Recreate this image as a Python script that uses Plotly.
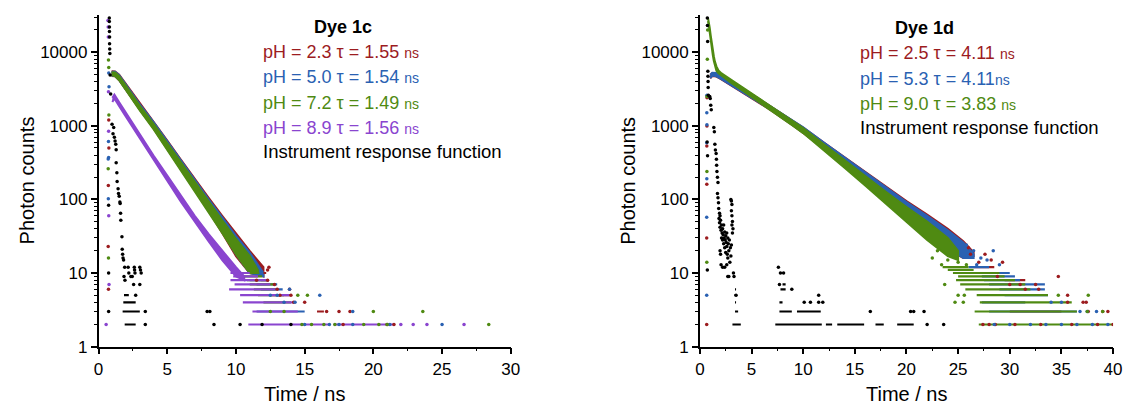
import plotly.graph_objects as go

# ----------------------------------------------------------------- data ----
# Dye 1c : dense decay bands (time in ns, upper / lower photon counts of the dot cloud)
t_1c = [0.95, 1.2, 1.5, 2, 3, 4, 5, 6, 7, 8, 9, 10, 11, 12]
hi_1c_red = [5500, 5450, 4950, 3700, 2000, 1150, 630, 345, 190, 106, 60, 34, 20, 12]
lo_1c_red = [4750, 4700, 4150, 3050, 1650, 920, 490, 255, 133, 70, 35, 17, 10, 9]
hi_1c_blue = [5400, 5400, 4850, 3600, 1950, 1120, 610, 333, 183, 101, 57, 32, 19, 10]
lo_1c_blue = [4800, 4750, 4200, 3100, 1680, 940, 500, 262, 137, 73, 37, 18, 10, 9]
t_1c_green = [0.95, 1.2, 1.5, 2, 3, 4, 5, 6, 7, 8, 9, 10, 11, 11.6]
hi_1c_green = [5350, 5300, 4700, 3450, 1860, 1060, 580, 310, 168, 93, 52, 29, 17, 11]
lo_1c_green = [4850, 4750, 4150, 3050, 1620, 900, 475, 244, 127, 67, 35, 18, 10, 10]
t_1c_purple = [1.0, 1.15, 1.5, 2, 3, 4, 5, 6, 7, 8, 9, 10, 10.6]
hi_1c_purple = [2400, 2650, 2080, 1480, 770, 395, 210, 110, 60, 34, 20, 12, 9]
lo_1c_purple = [2100, 2350, 1850, 1320, 680, 345, 180, 92, 49, 27, 15, 9, 8]

# Dye 1c : rows of equal low counts (count, t_start, t_end)
rows_1c_purple = [(10, 9.6, 11.0), (9, 9.8, 11.6), (8, 9.6, 12.4), (7, 9.9, 12.5), (6, 9.5, 12.9),
                  (5, 10.3, 13.9), (4, 10.5, 14.2), (3, 11.2, 14.5), (2, 10.9, 16.8), (2, 17.1, 21.5)]
rows_1c_green = [(10, 10.5, 11.7), (9, 10.6, 11.9), (8, 10.8, 12.2), (7, 11.0, 12.9), (6, 11.3, 12.9),
                 (5, 11.6, 13.5), (4, 12.0, 14.0)]
rows_1c_blue = [(10, 10.6, 12.0), (8, 11.0, 12.4), (7, 11.5, 13.0), (6, 11.8, 13.4), (3, 11.5, 15.0)]
rows_1c_red = [(10, 11.0, 12.2), (8, 11.8, 12.4), (5, 12.5, 14.0), (3, 15.9, 16.4)]
rows_1c_irf = [(5, 1.85, 2.2), (4, 1.8, 2.7), (3, 1.75, 3.0), (2, 1.9, 2.7)]

# Dye 1c : single dots (rise column and sparse tail)
dots_1c_purple_t = [0.68, 0.70, 0.71, 0.72, 0.73, 0.74, 0.76, 0.55, 22.0, 22.9, 23.9, 26.6]
dots_1c_purple_c = [27000, 22000, 16000, 2900, 840, 60, 7, 2, 2, 2, 2, 2]
dots_1c_green_t = [0.72, 0.74, 0.75, 0.70, 0.72, 14.5, 15.2, 12.5, 13.5, 20.0, 23.6, 28.4,
                   14.8, 15.5, 16.4, 17.2, 19.3, 20.4, 21.0]
dots_1c_green_c = [7800, 6200, 1400, 260, 16, 5, 5, 3, 3, 3, 3, 2, 2, 2, 2, 2, 2, 2, 2]
dots_1c_blue_t = [0.74, 0.76, 0.72, 0.73, 0.70, 0.71, 13.9, 12.5, 13.0, 16.1, 13.5, 14.3, 18.5,
                  15.0, 16.8, 17.5, 18.5, 21.2, 25.0]
dots_1c_blue_c = [5200, 3400, 610, 370, 355, 102, 6, 5, 5, 5, 4, 4, 3, 2, 2, 2, 2, 2, 2]
dots_1c_red_t = [0.74, 0.75, 0.71, 0.70, 0.72, 12.4, 12.3, 11.5, 12.3, 12.8, 13.0, 13.9, 13.2,
                 14.0, 14.2, 15.0, 16.6, 17.5, 18.3, 17.8, 21.0, 21.5]
dots_1c_red_c = [1200, 500, 155, 23, 6, 12, 11, 8, 8, 7, 6, 6, 5, 5, 4, 4, 3, 3, 3, 2, 2, 2]
irf_1c_t = [0.73, 0.73, 0.73, 0.78, 0.78, 0.79, 0.79, 0.80, 0.80, 0.81, 0.82, 0.84, 0.88,
            0.98, 1.05, 1.10, 1.15, 1.20, 1.25, 1.28, 1.28, 1.33, 1.35, 1.42, 1.45, 1.50, 1.55,
            1.57, 1.60, 1.62, 1.70, 1.72, 1.75, 1.78, 1.82, 1.90, 1.85, 1.92, 2.15, 2.20, 2.35,
            2.45, 2.60, 2.62, 2.65, 2.55, 3.00, 3.05, 3.10, 3.00, 2.70, 3.40, 3.40,
            7.9, 8.1, 8.4, 10.3, 11.9, 14.0]
irf_1c_c = [10, 83, 3, 29000, 26000, 22000, 19000, 16000, 13000, 11000, 9600, 4900, 2700,
            1050, 780, 950, 700, 620, 560, 474, 315, 230, 175, 140, 120, 110, 92,
            88, 65, 52, 31, 21, 18, 16, 15, 12, 9, 8, 12, 10, 9,
            9, 12, 11, 10, 7, 12, 11, 10, 7, 5, 3, 2,
            3, 3, 2, 2, 2, 2]

# Dye 1d : dense decay bands
t_1d = [1.0, 1.2, 1.6, 2, 3, 4, 5, 6, 7, 8, 9, 10, 12, 14, 16, 18, 20, 22, 24, 25.5, 26.5]
hi_1d_red = [4900, 5200, 5150, 4800, 4000, 3300, 2690, 2190, 1790, 1460, 1175, 948, 590, 372, 235, 149, 95, 62, 40, 27, 19]
lo_1d_red = [4400, 4750, 4650, 4330, 3600, 2950, 2380, 1940, 1580, 1280, 1010, 800, 490, 295, 178, 105, 62, 36, 21, 16, 17]
hi_1d_blue = [4950, 5250, 5200, 4850, 4050, 3320, 2700, 2200, 1800, 1470, 1180, 950, 590, 370, 232, 146, 92, 60, 38, 26, 18]
lo_1d_blue = [4450, 4800, 4700, 4380, 3650, 2980, 2400, 1960, 1600, 1290, 1020, 810, 495, 298, 180, 107, 63, 37, 22, 16, 16]
t_1d_green = [0.78, 0.85, 0.95, 1.05, 1.15, 1.25, 1.35, 1.45, 1.6, 1.8, 2.1, 3, 4, 5, 6, 7, 8, 9, 10,
              12, 14, 16, 18, 20, 22, 24, 25.0]
hi_1d_green = [29500, 26500, 21500, 16800, 13000, 10500, 8800, 7500, 6400, 5650, 5150, 4250, 3420, 2750,
               2210, 1790, 1445, 1165, 930, 560, 340, 207, 127, 79, 50, 30, 20]
lo_1d_green = [26500, 23500, 18500, 14200, 11000, 9100, 7600, 6500, 5600, 5150, 4750, 3860, 3090, 2460,
               1960, 1575, 1260, 1000, 795, 465, 270, 155, 89, 50, 28, 17, 15]

# Dye 1d : rows of equal low counts (count, t_start, t_end)
rows_1d_green = [(12, 23.5, 26.0), (11, 24.0, 26.5), (10, 24.5, 29.0), (9, 25.0, 29.5), (8, 24.8, 30.5),
                 (7, 25.2, 31.5), (6, 25.7, 32.0), (5, 26.8, 33.7), (4, 27.1, 36.0), (3, 26.6, 36.5),
                 (2, 27.0, 40.0)]
rows_1d_blue = [(12, 26.0, 28.0), (10, 27.0, 30.0), (9, 27.3, 30.5), (8, 27.5, 31.0), (7, 28.0, 33.4),
                (6, 29.0, 33.4), (5, 29.5, 33.7), (4, 27.3, 31.5), (3, 28.0, 36.5)]
rows_1d_red = [(12, 26.5, 28.5), (10, 27.5, 29.0), (8, 29.5, 31.5), (3, 30.0, 35.0)]
rows_1d_irf = [(6, 3.4, 3.5), (5, 3.35, 3.6), (4, 3.4, 3.5), (3, 3.4, 3.7), (2, 3.15, 3.96),
               (4, 7.7, 8.0), (3, 7.7, 8.9), (3, 9.4, 11.7), (2, 7.3, 11.8), (2, 12.2, 12.8),
               (2, 13.3, 15.9), (2, 17.0, 17.8), (2, 19.1, 20.7), (6, 7.8, 8.3), (7, 8.0, 8.3)]

# Dye 1d : single dots
dots_1d_green_t = [0.69, 0.68, 0.67, 0.72, 0.75, 23.7, 25.0, 25.6, 34.7, 37.6, 24.7, 25.5, 37.5, 39.0,
                   23.0, 24.0, 25.0, 25.8, 22.5, 23.4]
dots_1d_green_c = [2500, 240, 14, 8000, 20000, 7, 5, 5, 5, 5, 4, 4, 3, 3,
                   20, 15, 14, 13, 16, 13]
dots_1d_blue_t = [0.68, 0.67, 0.68, 0.66, 0.67, 0.66, 0.66, 28.4, 34.0, 35.0, 36.8, 37.5, 38.4,
                  28.5, 30.0, 32.0, 33.5, 35.0, 36.5, 38.0, 39.5, 26.5, 27.2, 27.8, 26.8, 29.0, 25.8]
dots_1d_blue_c = [2600, 1500, 1030, 590, 190, 57, 5, 20, 4, 4, 3, 3, 3, 2, 2, 2, 2, 2, 2, 2, 2,
                  20, 16, 15, 13, 13, 24]
dots_1d_red_t = [0.69, 0.68, 0.67, 0.67, 0.66, 0.66, 26.2, 27.0, 28.8, 34.7, 30.0, 31.0, 32.5, 31.5,
                 32.8, 35.6, 35.6, 37.1, 37.4, 37.6, 39.0, 39.5, 27.4, 28.0, 28.6, 30.5, 33.0, 36.0,
                 38.5, 40.0, 26.0, 27.6, 28.2, 29.3]
dots_1d_red_c = [2400, 990, 530, 160, 30, 2, 18, 14, 9, 9, 7, 7, 7, 6, 6, 5, 4, 4, 4, 3, 3, 3,
                 2, 2, 2, 2, 2, 2, 2, 2, 22, 18, 15, 14]
irf_1d_t = [0.72, 0.73, 0.75, 0.77, 0.78, 0.79, 0.80, 0.82, 0.74, 0.72, 0.70, 0.95, 1.00, 1.05, 1.10,
            1.35, 1.40, 1.45, 1.50, 1.57, 1.60, 1.62, 1.65, 1.70, 1.75, 1.70, 1.75, 1.80, 1.82, 1.90, 1.95,
            1.85, 1.90, 1.95, 2.00, 2.05, 2.10, 2.10, 2.15, 2.20, 2.20, 2.25, 2.30, 2.30, 2.35, 2.40,
            2.40, 2.45, 2.50, 2.50, 2.55, 2.60, 2.60, 2.65, 2.70, 2.70, 2.75, 2.80, 2.85, 2.90, 2.95,
            3.00, 3.05, 1.95, 2.00, 2.05, 2.20, 2.40, 2.60, 2.70, 2.80,
            3.00, 3.05, 3.10, 3.05, 3.10, 3.15, 3.10, 3.20, 3.15, 3.25, 3.30,
            7.6, 7.8, 7.7, 8.1, 8.9, 10.1, 10.7, 11.5, 11.9, 3.5, 11.5,
            16.5, 20.4, 20.7, 21.7, 22.0, 23.6]
irf_1d_c = [29000, 23000, 14000, 5500, 4700, 4000, 3300, 2600, 390, 11, 600, 2500, 2350, 1900, 1650,
            950, 830, 560, 470, 420, 350, 290, 240, 200, 170, 120, 105, 90, 75, 65, 60,
            55, 48, 42, 52, 38, 45, 30, 35, 28, 40, 33, 25, 45, 30, 36,
            22, 28, 32, 19, 26, 35, 23, 18, 30, 16, 25, 20, 28, 14, 22,
            17, 24, 20, 18, 13, 12, 12, 13, 9, 9,
            100, 95, 85, 70, 60, 50, 45, 40, 35, 10, 9,
            12, 10, 7, 10, 6, 4, 4, 4, 4, 5, 5,
            3, 3, 3, 3, 2, 2]

# legend texts
title_1c = "Dye 1c"
labels_1c = ["pH = 2.3 τ = 1.55 ", "pH = 5.0 τ = 1.54 ", "pH = 7.2 τ = 1.49 ", "pH = 8.9 τ = 1.56 "]
title_1d = "Dye 1d"
labels_1d = ["pH = 2.5 τ = 4.11 ", "pH = 5.3 τ = 4.11", "pH = 9.0 τ = 3.83 "]
irf_label = "Instrument response function"

# --------------------------------------------------------------- styles ----
RED, BLUE, GREEN, PURPLE, BLACK = "#9c1c1f", "#2a61b2", "#4f8a12", "#8a45cf", "#000000"
FONT = "Liberation Sans, Arial, sans-serif"
W, H = 1125, 407          # target picture
FW, FH = 1134, 416        # figure size handed to plotly

fig = go.Figure()


def band(t, hi, lo, color, xa, ya):
    fig.add_trace(go.Scatter(x=list(t) + list(t)[::-1], y=list(hi) + list(lo)[::-1],
                             mode="lines", fill="toself", fillcolor=color,
                             line=dict(color=color, width=2), xaxis=xa, yaxis=ya,
                             hoverinfo="skip", showlegend=False))


def rows(rs, color, xa, ya):
    x, y = [], []
    for c, a, b in rs:
        x += [a, b, None]
        y += [c, c, None]
    fig.add_trace(go.Scatter(x=x, y=y, mode="lines", line=dict(color=color, width=2.2),
                             xaxis=xa, yaxis=ya, hoverinfo="skip", showlegend=False))


def dots(t, c, color, xa, ya):
    fig.add_trace(go.Scatter(x=t, y=c, mode="markers", marker=dict(color=color, size=3.5),
                             xaxis=xa, yaxis=ya, hoverinfo="skip", showlegend=False))


# left panel
band(t_1c, hi_1c_red, lo_1c_red, RED, "x", "y")
band(t_1c, hi_1c_blue, lo_1c_blue, BLUE, "x", "y")
band(t_1c_green, hi_1c_green, lo_1c_green, GREEN, "x", "y")
band(t_1c_purple, hi_1c_purple, lo_1c_purple, PURPLE, "x", "y")
rows(rows_1c_red, RED, "x", "y")
rows(rows_1c_blue, BLUE, "x", "y")
rows(rows_1c_green, GREEN, "x", "y")
rows(rows_1c_purple, PURPLE, "x", "y")
rows(rows_1c_irf, BLACK, "x", "y")
dots(dots_1c_red_t, dots_1c_red_c, RED, "x", "y")
dots(dots_1c_blue_t, dots_1c_blue_c, BLUE, "x", "y")
dots(dots_1c_green_t, dots_1c_green_c, GREEN, "x", "y")
dots(dots_1c_purple_t, dots_1c_purple_c, PURPLE, "x", "y")
dots(irf_1c_t, irf_1c_c, BLACK, "x", "y")

# right panel
band(t_1d, hi_1d_red, lo_1d_red, RED, "x2", "y2")
band(t_1d, hi_1d_blue, lo_1d_blue, BLUE, "x2", "y2")
band(t_1d_green, hi_1d_green, lo_1d_green, GREEN, "x2", "y2")
rows(rows_1d_red, RED, "x2", "y2")
rows(rows_1d_blue, BLUE, "x2", "y2")
rows(rows_1d_green, GREEN, "x2", "y2")
rows(rows_1d_irf, BLACK, "x2", "y2")
dots(dots_1d_red_t, dots_1d_red_c, RED, "x2", "y2")
dots(dots_1d_blue_t, dots_1d_blue_c, BLUE, "x2", "y2")
dots(dots_1d_green_t, dots_1d_green_c, GREEN, "x2", "y2")
dots(irf_1d_t, irf_1d_c, BLACK, "x2", "y2")

y_major = [1, 10, 100, 1000, 10000]
y_minor = [m * 10 ** e for e in range(0, 5) for m in range(2, 10) if m * 10 ** e < 32000]

ydom = [1 - 347.5 / H, 1 - 15 / H]
axis_common = dict(showline=True, linecolor="black", linewidth=1.5, ticks="outside", ticklen=6,
                   tickwidth=1.5, tickcolor="black", showgrid=False, zeroline=False,
                   tickfont=dict(family=FONT, size=17, color="black"))
xminor = dict(ticks="outside", ticklen=3, tickwidth=1.2, tickcolor="black", dtick=2.5, showgrid=False)
yminor = dict(ticks="outside", ticklen=3, tickwidth=1.2, tickcolor="black", tickmode="array",
              tickvals=y_minor, showgrid=False)

fig.update_layout(
    width=FW, height=FH, margin=dict(l=0, r=0, t=0, b=0),
    paper_bgcolor="white", plot_bgcolor="white", showlegend=False,
    xaxis=dict(domain=[94 / W, 508 / W], range=[0, 30], dtick=5, anchor="y", minor=xminor, **axis_common),
    yaxis=dict(domain=ydom, type="log", range=[0, 4.505], tickmode="array", tickvals=y_major,
               ticktext=[str(v) for v in y_major], anchor="x", minor=yminor, **axis_common),
    xaxis2=dict(domain=[698 / W, 1113 / W], range=[0, 40], dtick=5, anchor="y2", minor=xminor, **axis_common),
    yaxis2=dict(domain=ydom, type="log", range=[0, 4.505], tickmode="array", tickvals=y_major,
                ticktext=[str(v) for v in y_major], anchor="x2", minor=yminor, **axis_common),
)

ann = []


def text(x, y, s, color="black", size=18, xanchor="left", angle=0):
    ann.append(dict(x=x / W, y=1 - y / H, xref="paper", yref="paper", text=s, showarrow=False,
                    xanchor=xanchor, yanchor="middle", textangle=angle,
                    font=dict(family=FONT, size=size, color=color)))


# axis titles
text(301, 395, "Time / ns", size=20, xanchor="center")
text(906, 395, "Time / ns", size=20, xanchor="center")
text(22, 181, "Photon counts", size=20, xanchor="center", angle=-90)
text(625, 181, "Photon counts", size=20, xanchor="center", angle=-90)

# legend texts, left
text(340, 27, "<b>" + title_1c + "</b>", xanchor="center")
for lab, col, yy in zip(labels_1c, [RED, BLUE, GREEN, PURPLE], [52, 77, 103, 128]):
    text(257, yy, lab + "<span style='font-size:14px'>ns</span>", color=col)
text(257, 152, irf_label, size=18.5)

# legend texts, right
text(924, 28, "<b>" + title_1d + "</b>", xanchor="center")
for lab, col, yy in zip(labels_1d, [RED, BLUE, GREEN], [53, 79, 104]):
    text(857, yy, lab + "<span style='font-size:14px'>ns</span>", color=col)
text(857, 128, irf_label, size=18.5)

fig.update_layout(annotations=ann)
fig.write_html("out.html")
